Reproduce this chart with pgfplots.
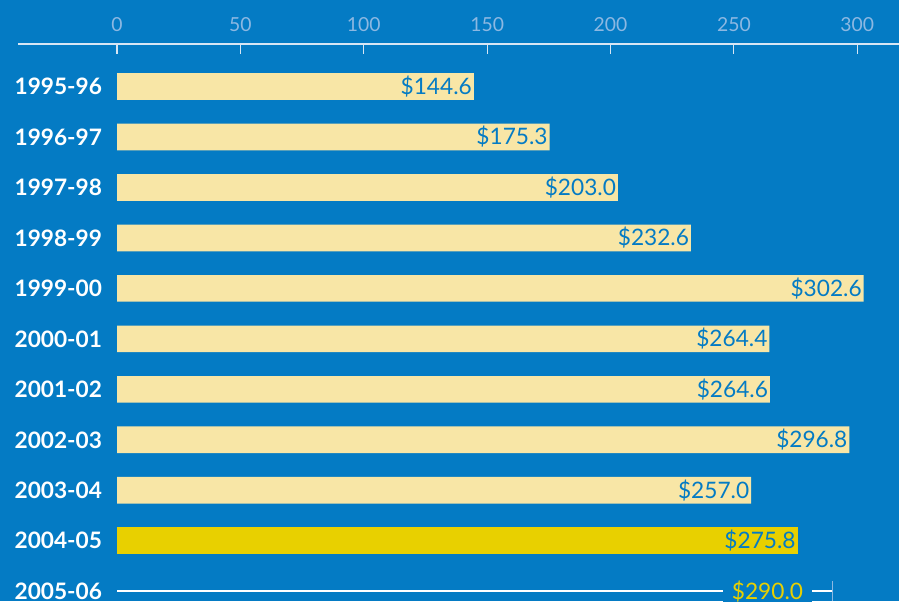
\documentclass[border=0pt]{standalone}
\usepackage{pgfplots}
\pgfplotsset{compat=1.18}
\usepackage{fontspec}
\setmainfont{Lato}
\definecolor{bg}{RGB}{4,123,196}
\definecolor{barc}{RGB}{248,230,166}
\definecolor{hl}{RGB}{232,208,0}
\definecolor{tickc}{RGB}{140,184,226}
\definecolor{linec}{RGB}{215,230,244}
\begin{document}
\begin{tikzpicture}
\fill[bg] (0,0) rectangle (674.25pt,-450.75pt);
\begin{axis}[
  at={(13.5pt,-33pt)}, anchor=north west,
  scale only axis, width=660.75pt, height=417.75pt,
  xmin=-40.12, xmax=316.9, ymin=-0.194, ymax=10.842,
  axis x line*=top, axis y line*=left,
  x axis line style={-, draw=linec, line width=0.8pt},
  y axis line style={draw=none},
  xtick={0,50,...,300},
  tick align=inside,
  major tick length=7.5pt,
  xtick style={draw=linec, line width=0.8pt},
  ytick style={draw=none},
  /pgf/number format/assume math mode=true,
  xticklabel style={text=tickc, font=\fontsize{14.5}{16}\selectfont, yshift=6pt},
  ytick={0,...,10},
  yticklabels={2005-06,2004-05,2003-04,2002-03,2001-02,2000-01,1999-00,1998-99,1997-98,1996-97,1995-96},
  yticklabel style={text=white, font=\fontsize{17}{20}\selectfont\bfseries, anchor=east, xshift=66.5pt},
  clip=false,
]
\addplot[xbar, bar shift=0pt, bar width=20pt, fill=barc, draw=none,
  nodes near coords={\$\pgfmathprintnumber[fixed,fixed zerofill,precision=1]{\pgfplotspointmeta}},
  nodes near coords align={anchor=east},
  every node near coord/.append style={text=bg, font=\fontsize{17}{20}\selectfont, xshift=2pt},
  point meta=x]
  coordinates {(144.6,10) (175.3,9) (203.0,8) (232.6,7) (302.6,6) (264.4,5) (264.6,4) (296.8,3) (257.0,2)};
\addplot[xbar, bar shift=0pt, bar width=20pt, fill=hl, draw=none,
  nodes near coords={\$\pgfmathprintnumber[fixed,fixed zerofill,precision=1]{\pgfplotspointmeta}},
  nodes near coords align={anchor=east},
  every node near coord/.append style={text=bg, font=\fontsize{17}{20}\selectfont, xshift=2pt},
  point meta=x]
  coordinates {(275.8,1)};
\addplot[white, line width=1.2pt, mark=|, mark indices={2}, mark size=7.5pt,
  mark options={draw=tickc, line width=0.9pt}]
  coordinates {(0,0) (290,0)};
\node[fill=bg, text=hl, inner xsep=6.5pt, inner ysep=1pt, font=\fontsize{17}{20}\selectfont] at (axis cs:263.6,0) {\$290.0};
\end{axis}
\pgfresetboundingbox
\useasboundingbox (0,0) rectangle (674.25pt,-450.75pt);
\end{tikzpicture}
\end{document}
